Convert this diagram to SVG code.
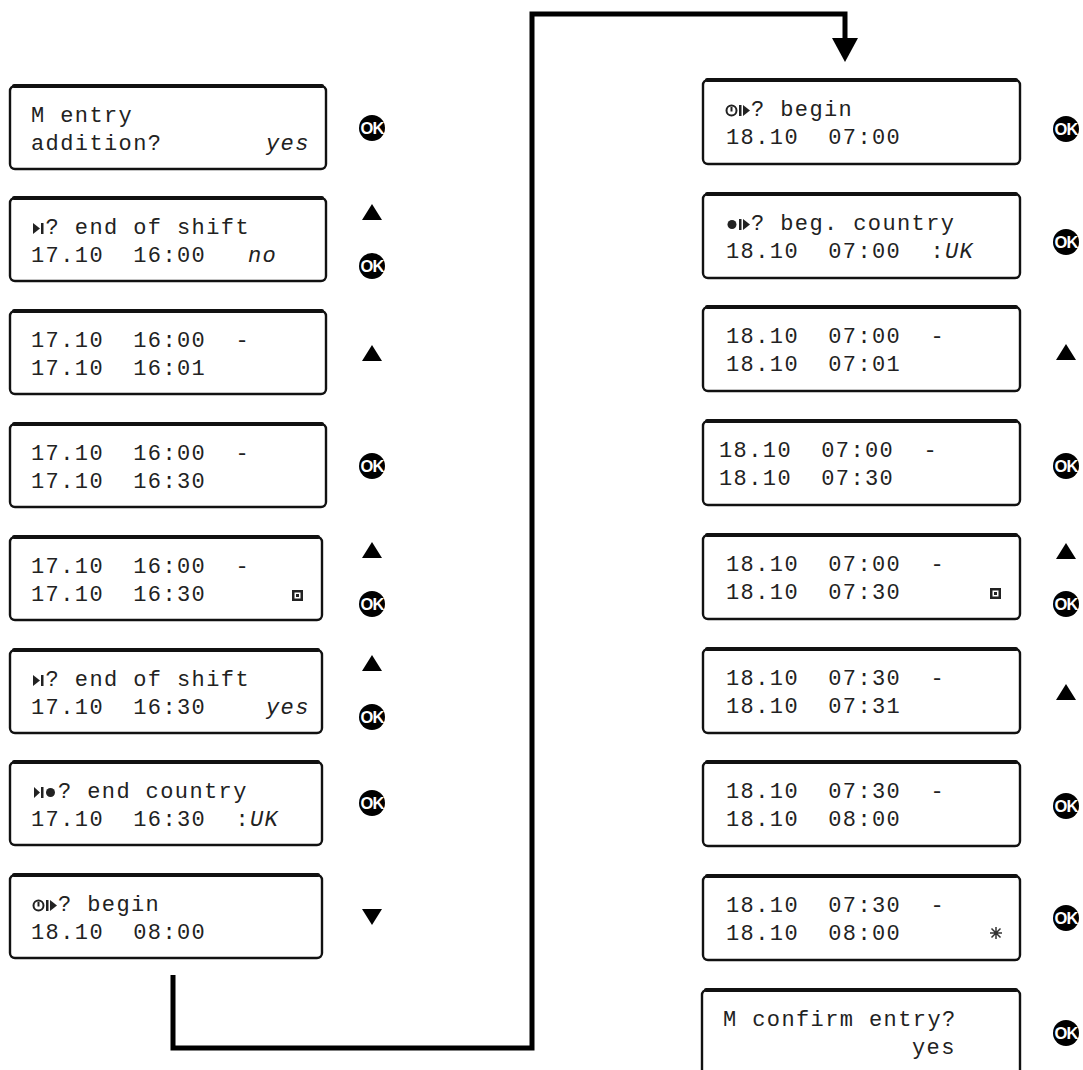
<svg xmlns="http://www.w3.org/2000/svg" width="1083" height="1070" viewBox="0 0 1083 1070">
<defs>
<style>
.box{fill:#fff;stroke:#111;stroke-width:2.4}
.top{fill:none;stroke:#111;stroke-width:4;stroke-linecap:round}
.t{font-family:"Liberation Mono","DejaVu Sans Mono",monospace;font-size:22px;letter-spacing:1.4px;fill:#222;white-space:pre}
.i{font-style:italic}
.ic{fill:#222}
.conn{fill:none;stroke:#000;stroke-width:5;stroke-linejoin:miter}
</style>
<g id="okb"><circle r="13" fill="#000"/><text y="6" font-family="Liberation Sans, Arial, sans-serif" font-weight="bold" font-size="16.5" fill="#fff" text-anchor="middle" letter-spacing="-0.8">OK</text></g>
<polygon id="up" points="0,-8 10,8 -10,8" fill="#000"/>
<polygon id="dn" points="0,8 10,-8 -10,-8" fill="#000"/>
</defs>

<g id="connectors">
<path class="conn" d="M173,975 V1048 H532 V14 H845 V40"/>
<polygon points="832,38 858,38 845,62" fill="#000"/>
</g>

<!-- LEFT COLUMN -->
<g id="L1">
<rect class="box" x="10" y="86" width="316" height="83" rx="5"/>
<path class="top" d="M14,86 H322"/>
<text class="t" x="31" y="122">M entry</text>
<text class="t" x="31" y="150">addition?</text>
<text class="t i" x="266" y="150">yes</text>
<use href="#okb" x="372" y="128"/>
</g>

<g id="L2">
<rect class="box" x="10" y="198" width="316" height="83" rx="5"/>
<path class="top" d="M14,198 H322"/>
<g class="ic"><polygon points="33,223 40,228.5 33,234"/><rect x="41" y="223" width="2.5" height="11"/></g>
<text class="t" x="45.6" y="234">? end of shift</text>
<text class="t" x="31" y="262">17.10  16:00</text>
<text class="t i" x="248" y="262">no</text>
<use href="#up" x="372" y="212"/>
<use href="#okb" x="372" y="266"/>
</g>

<g id="L3">
<rect class="box" x="10" y="311" width="316" height="83" rx="5"/>
<path class="top" d="M14,311 H322"/>
<text class="t" x="31" y="347">17.10  16:00  -</text>
<text class="t" x="31" y="375">17.10  16:01</text>
<use href="#up" x="372" y="353"/>
</g>

<g id="L4">
<rect class="box" x="10" y="424" width="316" height="83" rx="5"/>
<path class="top" d="M14,424 H322"/>
<text class="t" x="31" y="460">17.10  16:00  -</text>
<text class="t" x="31" y="488">17.10  16:30</text>
<use href="#okb" x="372" y="466"/>
</g>

<g id="L5">
<rect class="box" x="10" y="537" width="312" height="83" rx="5"/>
<path class="top" d="M14,537 H318"/>
<text class="t" x="31" y="573">17.10  16:00  -</text>
<text class="t" x="31" y="601">17.10  16:30</text>
<g class="ic"><rect x="292" y="590" width="11" height="11"/><rect x="294.5" y="592.5" width="6" height="6" fill="#fff"/><rect x="296" y="594" width="3" height="3"/></g>
<use href="#up" x="372" y="550"/>
<use href="#okb" x="372" y="604"/>
</g>

<g id="L6">
<rect class="box" x="10" y="650" width="312" height="83" rx="5"/>
<path class="top" d="M14,650 H318"/>
<g class="ic"><polygon points="33,675 40,680.5 33,686"/><rect x="41" y="675" width="2.5" height="11"/></g>
<text class="t" x="45.6" y="686">? end of shift</text>
<text class="t" x="31" y="714">17.10  16:30</text>
<text class="t i" x="266" y="714">yes</text>
<use href="#up" x="372" y="663"/>
<use href="#okb" x="372" y="717"/>
</g>

<g id="L7">
<rect class="box" x="10" y="762" width="312" height="83" rx="5"/>
<path class="top" d="M14,762 H318"/>
<g class="ic"><polygon points="34,787 40,792.5 34,798"/><rect x="41" y="787" width="2.5" height="11"/><circle cx="50.5" cy="792.5" r="4.5"/></g>
<text class="t" x="58" y="798">? end country</text>
<text class="t" x="31" y="826">17.10  16:30  :</text>
<text class="t i" x="250" y="826">UK</text>
<use href="#okb" x="372" y="803"/>
</g>

<g id="L8">
<rect class="box" x="10" y="875" width="312" height="83" rx="5"/>
<path class="top" d="M14,875 H318"/>
<g class="ic"><circle cx="38.5" cy="905.5" r="5" fill="none" stroke="#222" stroke-width="2"/><rect x="37.5" y="902" width="2" height="4.5"/><rect x="46" y="900" width="2.5" height="11"/><polygon points="50,900 57,905.5 50,911"/></g>
<text class="t" x="58" y="911">? begin</text>
<text class="t" x="31" y="939">18.10  08:00</text>
<use href="#dn" x="372" y="917"/>
</g>

<!-- RIGHT COLUMN -->
<g id="R1">
<rect class="box" x="703" y="80" width="317" height="84" rx="5"/>
<path class="top" d="M707,80 H1016"/>
<g class="ic"><circle cx="731.5" cy="110.5" r="5" fill="none" stroke="#222" stroke-width="2"/><rect x="730.5" y="107" width="2" height="4.5"/><rect x="739" y="105" width="2.5" height="11"/><polygon points="743,105 750,110.5 743,116"/></g>
<text class="t" x="751" y="116">? begin</text>
<text class="t" x="726" y="144">18.10  07:00</text>
<use href="#okb" x="1066" y="129"/>
</g>

<g id="R2">
<rect class="box" x="703" y="194" width="317" height="84" rx="5"/>
<path class="top" d="M707,194 H1016"/>
<g class="ic"><circle cx="732" cy="224.5" r="4.5"/><rect x="739" y="219" width="2.5" height="11"/><polygon points="743,219 750,224.5 743,230"/></g>
<text class="t" x="751" y="230">? beg. country</text>
<text class="t" x="726" y="258">18.10  07:00  :</text>
<text class="t i" x="945" y="258">UK</text>
<use href="#okb" x="1066" y="242"/>
</g>

<g id="R3">
<rect class="box" x="703" y="307" width="317" height="84" rx="5"/>
<path class="top" d="M707,307 H1016"/>
<text class="t" x="726" y="343">18.10  07:00  -</text>
<text class="t" x="726" y="371">18.10  07:01</text>
<use href="#up" x="1066" y="352"/>
</g>

<g id="R4">
<rect class="box" x="703" y="421" width="317" height="84" rx="5"/>
<path class="top" d="M707,421 H1016"/>
<text class="t" x="719" y="457">18.10  07:00  -</text>
<text class="t" x="719" y="485">18.10  07:30</text>
<use href="#okb" x="1066" y="466"/>
</g>

<g id="R5">
<rect class="box" x="703" y="535" width="317" height="84" rx="5"/>
<path class="top" d="M707,535 H1016"/>
<text class="t" x="726" y="571">18.10  07:00  -</text>
<text class="t" x="726" y="599">18.10  07:30</text>
<g class="ic"><rect x="990" y="588" width="11" height="11"/><rect x="992.5" y="590.5" width="6" height="6" fill="#fff"/><rect x="994" y="592" width="3" height="3"/></g>
<use href="#up" x="1066" y="551"/>
<use href="#okb" x="1066" y="604"/>
</g>

<g id="R6">
<rect class="box" x="703" y="649" width="317" height="84" rx="5"/>
<path class="top" d="M707,649 H1016"/>
<text class="t" x="726" y="685">18.10  07:30  -</text>
<text class="t" x="726" y="713">18.10  07:31</text>
<use href="#up" x="1066" y="692"/>
</g>

<g id="R7">
<rect class="box" x="703" y="762" width="317" height="84" rx="5"/>
<path class="top" d="M707,762 H1016"/>
<text class="t" x="726" y="798">18.10  07:30  -</text>
<text class="t" x="726" y="826">18.10  08:00</text>
<use href="#okb" x="1066" y="806"/>
</g>

<g id="R8">
<rect class="box" x="703" y="876" width="317" height="84" rx="5"/>
<path class="top" d="M707,876 H1016"/>
<text class="t" x="726" y="912">18.10  07:30  -</text>
<text class="t" x="726" y="940">18.10  08:00</text>
<path d="M996,927 V939 M990,933 H1002 M991.5,928.5 L1000.5,937.5 M1000.5,928.5 L991.5,937.5" stroke="#333" stroke-width="1.5"/>
<use href="#okb" x="1066" y="918"/>
</g>

<g id="R9">
<rect class="box" x="702" y="990" width="318" height="90" rx="5"/>
<path class="top" d="M706,990 H1016"/>
<text class="t" x="723" y="1026">M confirm entry?</text>
<text class="t" x="912" y="1054">yes</text>
<use href="#okb" x="1066" y="1033"/>
</g>
</svg>
